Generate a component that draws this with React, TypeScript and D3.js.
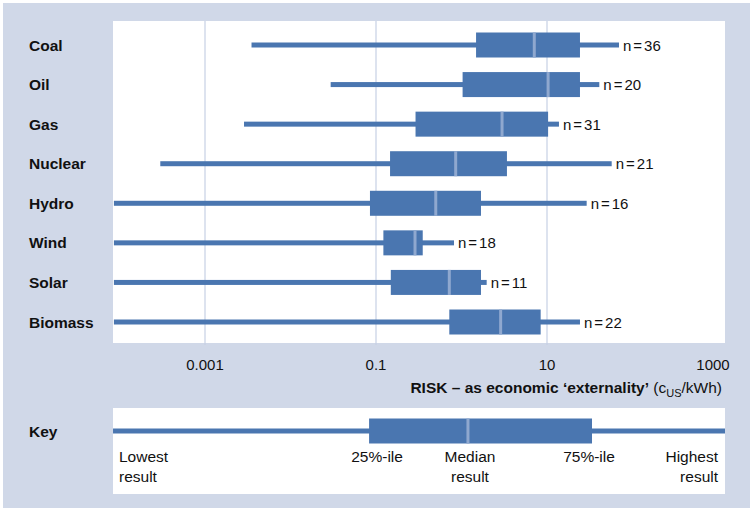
import React from "react";
import * as d3 from "d3";

const categories = ["Coal", "Oil", "Gas", "Nuclear", "Hydro", "Wind", "Solar", "Biomass"];
const lowest = [0.0035, 0.0295, 0.00286, 0.0003, 8.6e-5, 8.6e-5, 8.6e-5, 8.6e-5];
const q1 = [1.48, 1.03, 0.29, 0.146, 0.085, 0.122, 0.149, 0.72];
const median = [7.1, 10.3, 2.98, 0.855, 0.5, 0.286, 0.72, 2.87];
const q3 = [24.3, 24.3, 10.3, 3.4, 1.69, 0.352, 1.69, 8.43];
const highest = [69.5, 40.9, 13.8, 57.1, 29.1, 0.817, 1.97, 24.3];
const nCounts = [36, 20, 31, 21, 16, 18, 11, 22];
const tickValues = [0.001, 0.1, 10, 1000];
const tickLabels = ["0.001", "0.1", "10", "1000"];
// key: lowest, q1, median, q3, highest
const keyValues = [8.4e-5, 0.083, 1.19, 33.6, 1210];

const BLUE = "#4a76b0";
const MED = "#8fa8cf";
const BG = "#d0d8e8";
const GRID = "#c6d0e4";
const FONT = "'Liberation Sans', Arial, Helvetica, sans-serif";

export default function App() {
  const W = 755, H = 514;
  const panel = { x0: 113, x1: 725, y0: 21, y1: 343 };
  const x = d3.scaleLog().domain([0.001, 10]).range([205, 547]);
  const cx = (v: number) => Math.max(panel.x0, Math.min(panel.x1, x(v)));
  const y = d3.scalePoint<string>().domain(categories).range([45, 322]);
  const boxH = 25;
  const whiskW = 5;

  const keyY = 431;
  return (
    <svg width={W} height={H} style={{ position: "absolute", left: 0, top: 0 }} fontFamily={FONT}>
      <rect x={0} y={0} width={W} height={H} fill="#ffffff" />
      <rect x={3} y={3} width={747} height={505} fill={BG} />
      <rect x={panel.x0} y={panel.y0} width={panel.x1 - panel.x0} height={panel.y1 - panel.y0} fill="#fff" />
      {tickValues.slice(0, 3).map((t) => (
        <line key={t} x1={x(t)} x2={x(t)} y1={panel.y0} y2={panel.y1 + 2} stroke={GRID} strokeWidth={1.2} />
      ))}
      {categories.map((c, i) => {
        const cy = y(c) as number;
        return (
          <g key={c}>
            <text x={29} y={cy + 5.5} fontSize={15.5} fontWeight="bold" fill="#111">{c}</text>
            <rect x={cx(lowest[i])} y={cy - whiskW / 2} width={cx(highest[i]) - cx(lowest[i])} height={whiskW} fill={BLUE} />
            <rect x={x(q1[i])} y={cy - boxH / 2} width={x(q3[i]) - x(q1[i])} height={boxH} fill={BLUE} />
            <rect x={x(median[i]) - 1.5} y={cy - boxH / 2} width={3} height={boxH} fill={MED} />
            <text x={cx(highest[i]) + 4} y={cy + 5.5} fontSize={15} fill="#111">
              <tspan>n</tspan>
              <tspan dx={2}>=</tspan>
              <tspan dx={2}>{nCounts[i]}</tspan>
            </text>
          </g>
        );
      })}
      {tickValues.map((t, i) => (
        <text key={t} x={Math.min(x(t), 713)} y={370} fontSize={15} textAnchor="middle" fill="#111">{tickLabels[i]}</text>
      ))}
      <text x={722} y={393} fontSize={15.5} textAnchor="end" fill="#111">
        <tspan fontWeight="bold">RISK – as economic ‘externality’</tspan>
        <tspan> (c</tspan>
        <tspan fontSize={11} dy={4}>US</tspan>
        <tspan dy={-4}>/kWh)</tspan>
      </text>

      <rect x={panel.x0} y={408} width={panel.x1 - panel.x0} height={86} fill="#fff" />
      <text x={29} y={keyY + 5.5} fontSize={15.5} fontWeight="bold" fill="#111">Key</text>
      <rect x={cx(keyValues[0])} y={keyY - whiskW / 2} width={cx(keyValues[4]) - cx(keyValues[0])} height={whiskW} fill={BLUE} />
      <rect x={x(keyValues[1])} y={keyY - boxH / 2} width={x(keyValues[3]) - x(keyValues[1])} height={boxH} fill={BLUE} />
      <rect x={x(keyValues[2]) - 1.5} y={keyY - boxH / 2} width={3} height={boxH} fill={MED} />
      <g fontSize={15.5} fill="#111">
        <text x={119} y={462}>Lowest</text>
        <text x={119} y={481.5}>result</text>
        <text x={x(keyValues[1]) + 8} y={462} textAnchor="middle">25%-ile</text>
        <text x={x(keyValues[2]) + 2} y={462} textAnchor="middle">Median</text>
        <text x={x(keyValues[2]) + 2} y={481.5} textAnchor="middle">result</text>
        <text x={x(keyValues[3]) - 3} y={462} textAnchor="middle">75%-ile</text>
        <text x={718} y={462} textAnchor="end">Highest</text>
        <text x={718} y={481.5} textAnchor="end">result</text>
      </g>
    </svg>
  );
}
